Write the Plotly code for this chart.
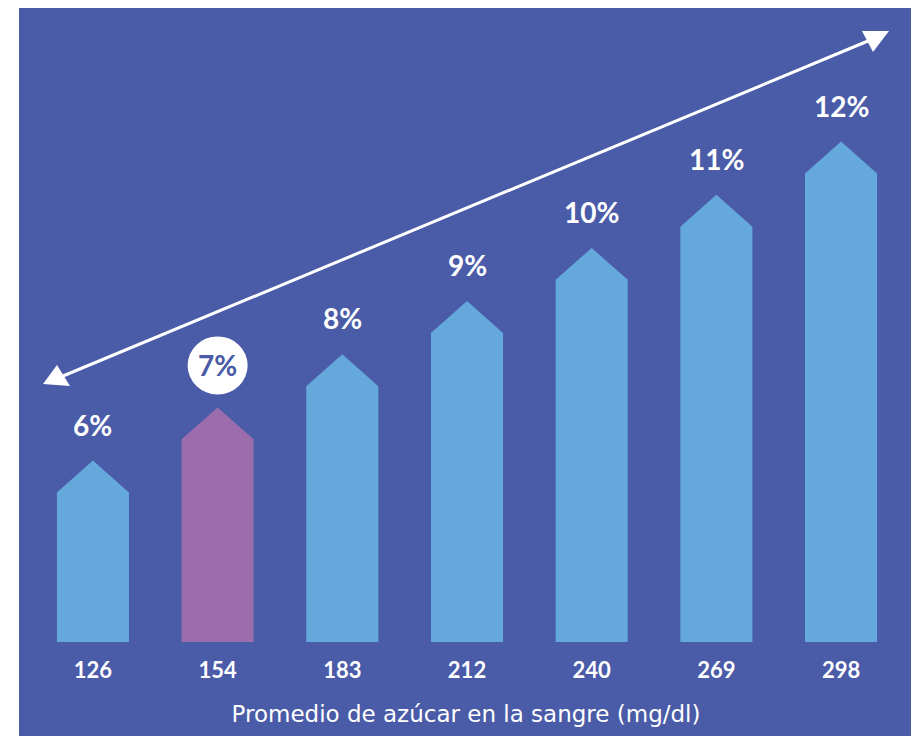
import plotly.graph_objects as go

categories = ["126", "154", "183", "212", "240", "269", "298"]
values = [6, 7, 8, 9, 10, 11, 12]
labels = ["6%", "7%", "8%", "9%", "10%", "11%", "12%"]
highlight = 1
x_title = "Promedio de azúcar en la sangre (mg/dl)"

BG = "#4a5ba8"
BAR = "#64a8dc"
HL = "#9b6dac"
FONT = "Lato, Open Sans, sans-serif"
TFONT = "DejaVu Sans, sans-serif"

# the page adds an 8px offset; coordinates below are in figure pixels
OFF = 8
W, H = 919, 736
ML, MR, MT, MB = 19 - OFF, 14, 0, 102
PW, PH = W - ML - MR, H - MT - MB

y_min, y_max = 2.5875, 14.494 + 1 / 53.33
x_min, x_max = -0.593, 6.577
half_w = 0.289
head = 0.6


def px(x, y):
    # x, y in screenshot pixels -> paper coords
    return (x - OFF - ML) / PW, (H - MB - (y - OFF)) / PH


fig = go.Figure()

xs = list(range(len(categories)))
for i, (xi, v) in enumerate(zip(xs, values)):
    poly_x = [xi - half_w, xi - half_w, xi, xi + half_w, xi + half_w, xi - half_w]
    poly_y = [y_min, v - head, v, v - head, y_min, y_min]
    fig.add_trace(go.Scatter(
        x=poly_x, y=poly_y, mode="lines", fill="toself",
        fillcolor=HL if i == highlight else BAR,
        line=dict(width=0), hoverinfo="skip", showlegend=False,
    ))

# white circle behind highlighted label
fig.add_shape(type="circle", xref="x", yref="y",
              xsizemode="pixel", ysizemode="pixel",
              xanchor=xs[highlight], yanchor=values[highlight],
              x0=-30, x1=30, y0=13, y1=71,
              fillcolor="white", line=dict(width=0), layer="above")

for i, (xi, v, lab) in enumerate(zip(xs, values, labels)):
    fig.add_annotation(
        x=xi, y=v, text=lab, showarrow=False, yanchor="middle",
        yshift=42 if i == highlight else 36,
        font=dict(family=FONT, size=28, color=BG if i == highlight else "white", weight="bold"),
    )

# panel background
fig.add_shape(type="rect", xref="paper", yref="paper",
              x0=0, x1=1, y0=-MB / PH - 0.01, y1=1,
              fillcolor=BG, line=dict(width=0), layer="below")

# double-headed arrow
a0 = px(63, 376)
a1 = px(868, 41)
fig.add_shape(type="line", xref="paper", yref="paper",
              x0=a0[0], y0=a0[1], x1=a1[0], y1=a1[1],
              line=dict(color="white", width=3))


def tri(pts):
    p = [px(*q) for q in pts]
    return "M{},{} L{},{} L{},{} Z".format(p[0][0], p[0][1], p[1][0], p[1][1], p[2][0], p[2][1])


fig.add_shape(type="path", xref="paper", yref="paper",
              path=tri([(43, 384), (57, 365), (70, 386)]),
              fillcolor="white", line=dict(width=0))
fig.add_shape(type="path", xref="paper", yref="paper",
              path=tri([(889, 31), (862, 31), (873, 52)]),
              fillcolor="white", line=dict(width=0))

fig.update_layout(
    width=W, height=H,
    margin=dict(l=ML, r=MR, t=MT, b=MB),
    paper_bgcolor="white",
    plot_bgcolor="rgba(0,0,0,0)",
    xaxis=dict(
        range=[x_min, x_max], tickmode="array", tickvals=xs, ticktext=categories,
        showgrid=False, zeroline=False, showline=False, ticks="",
        ticklabelstandoff=13,
        tickfont=dict(family=FONT, size=22, color="white", weight="bold"),
        title=dict(text=x_title, standoff=23,
                   font=dict(family=TFONT, size=23, color="white")),
        automargin=False,
    ),
    yaxis=dict(range=[y_min, y_max], visible=False),
)

fig.write_html("out.html")
